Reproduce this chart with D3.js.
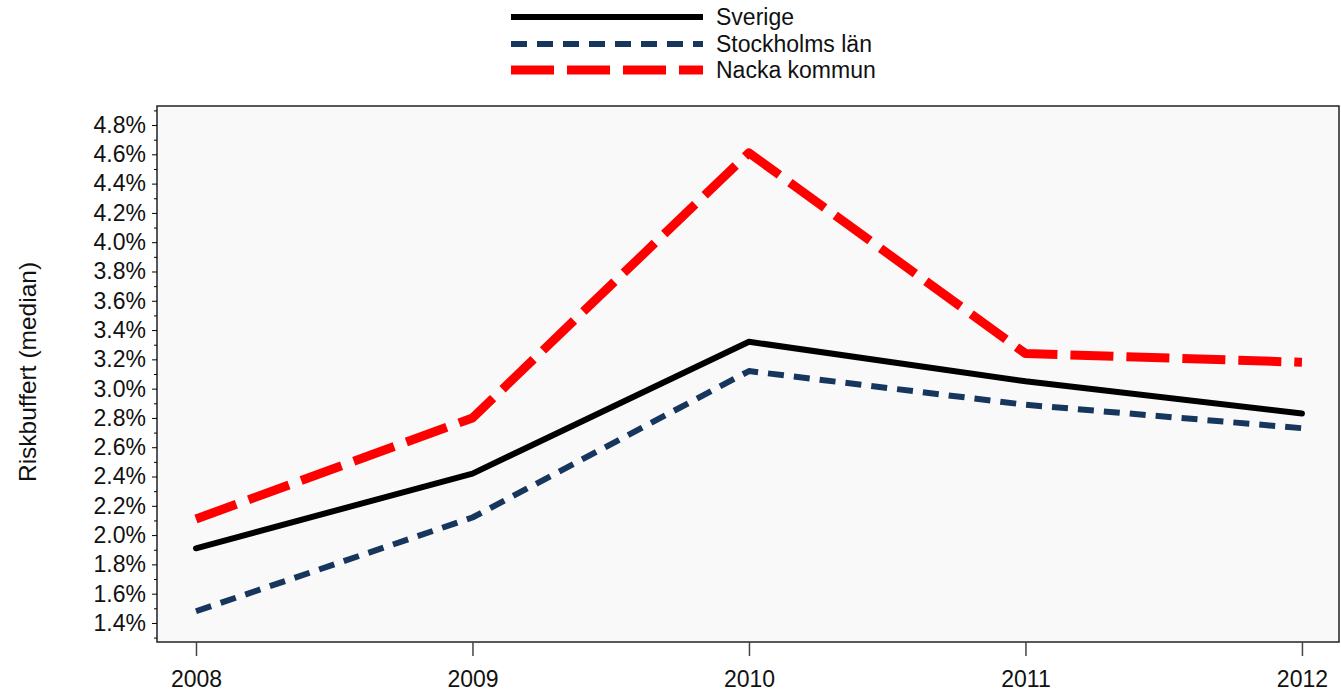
<!DOCTYPE html>
<html><head><meta charset="utf-8">
<script src="https://cdn.jsdelivr.net/npm/d3@7"></script>
<style>body{margin:0;background:#fff}svg{display:block}text{font-family:"Liberation Sans",Arial,sans-serif}</style>
</head><body>
<svg id="c" width="1341" height="694"></svg>
<script>
const years = [2008, 2009, 2010, 2011, 2012];
const sverige = [1.91, 2.42, 3.32, 3.05, 2.83];
const stockholm = [1.48, 2.12, 3.12, 2.89, 2.73];
const nacka = [2.11, 2.80, 4.61, 3.24, 3.18];
const yTicks = [1.4,1.6,1.8,2.0,2.2,2.4,2.6,2.8,3.0,3.2,3.4,3.6,3.8,4.0,4.2,4.4,4.6,4.8];
const seriesNames = ["Sverige", "Stockholms län", "Nacka kommun"];

const svg = d3.select("#c");
const L = 157, R = 1339, T = 106, B = 642;
const FS = 23;
const x = d3.scaleLinear().domain([2007.859, 2012.134]).range([L, R]);
const y = d3.scaleLinear().domain([1.27, 4.93]).range([B, T]);

svg.append("rect").attr("x", L).attr("y", T).attr("width", R-L).attr("height", B-T)
  .attr("fill", "#f9f9f9").attr("stroke", "#222").attr("stroke-width", 1.5);

// y axis
const ya = svg.append("g").attr("transform", `translate(${L},0)`)
  .call(d3.axisLeft(y).tickValues(yTicks).tickSize(5).tickPadding(6).tickFormat(d => d.toFixed(1) + "%"));
ya.select(".domain").remove();
ya.selectAll("text").attr("font-size", FS).attr("fill", "#111");
const minor = d3.range(1.3, 4.95, 0.2).map(v => +v.toFixed(1));
svg.append("g").attr("transform", `translate(${L},0)`)
  .call(d3.axisLeft(y).tickValues(minor).tickSize(3).tickFormat(""))
  .select(".domain").remove();

// x axis
const xa = svg.append("g").attr("transform", `translate(0,${B})`)
  .call(d3.axisBottom(x).tickValues(years).tickSize(14).tickPadding(15).tickFormat(d3.format("d")));
xa.select(".domain").remove();
xa.selectAll("line").attr("stroke", "#444").attr("stroke-width", 1.5);
xa.selectAll("text").attr("font-size", FS).attr("fill", "#111");

svg.append("text").attr("transform", "translate(36,372) rotate(-90)")
  .attr("text-anchor", "middle").attr("font-size", 24.5).attr("fill", "#111").text("Riskbuffert (median)");

const styles = [
  {data: sverige, color: "#000", w: 6, dash: null, cap: "round"},
  {data: stockholm, color: "#17365d", w: 6, dash: "16,10", cap: "butt"},
  {data: nacka, color: "#ff0000", w: 9, dash: "43,13", cap: "butt"}
];
const line = d3.line().x((d,i) => x(years[i])).y(d => y(d));
svg.append("defs").append("clipPath").attr("id","clip").append("rect")
  .attr("x", L).attr("y", T).attr("width", R-L).attr("height", B-T);
styles.forEach(s => {
  svg.append("path").attr("d", line(s.data)).attr("fill", "none")
    .attr("stroke", s.color).attr("stroke-width", s.w)
    .attr("stroke-dasharray", s.dash).attr("stroke-linecap", s.cap).attr("stroke-linejoin", "round")
    .attr("clip-path", "url(#clip)");
});

// legend
const ly = [17, 44, 70];
styles.forEach((s, i) => {
  svg.append("line").attr("x1", 511).attr("x2", 703).attr("y1", ly[i]).attr("y2", ly[i])
    .attr("stroke", s.color).attr("stroke-width", s.w).attr("stroke-dasharray", s.dash);
  svg.append("text").attr("x", 716).attr("y", ly[i] + 8).attr("font-size", FS).attr("fill", "#111").text(seriesNames[i]);
});
</script>
</body></html>
